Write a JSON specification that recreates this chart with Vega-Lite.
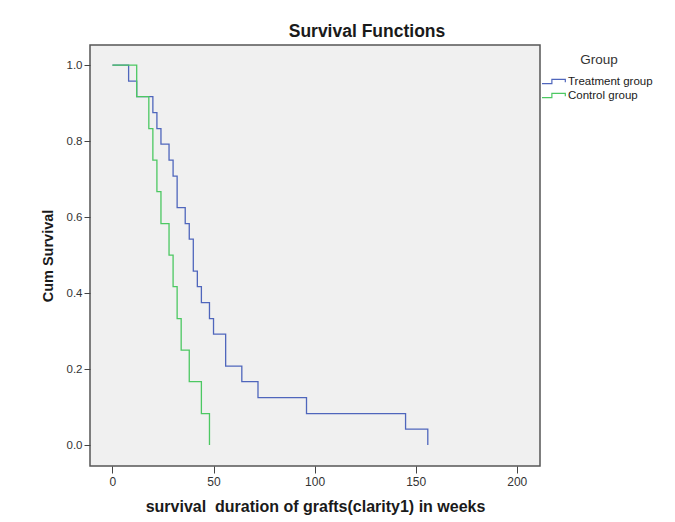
{
  "$schema": "https://vega.github.io/schema/vega-lite/v6.json",
  "width": 450,
  "height": 421,
  "autosize": {"type": "none"},
  "padding": {"left": 90, "top": 45, "right": 135, "bottom": 56},
  "background": "#ffffff",
  "title": {
    "text": "Survival Functions",
    "font": "Liberation Sans",
    "fontSize": 17.5,
    "fontWeight": "bold",
    "color": "#1a1a1a",
    "anchor": "middle",
    "dx": 52,
    "offset": 5
  },
  "data": {
    "values": [
      {"group": "Treatment group", "time": 0, "survival": 1.0},
      {"group": "Treatment group", "time": 8, "survival": 0.958},
      {"group": "Treatment group", "time": 12, "survival": 0.917},
      {"group": "Treatment group", "time": 20, "survival": 0.875},
      {"group": "Treatment group", "time": 22, "survival": 0.833},
      {"group": "Treatment group", "time": 24, "survival": 0.792},
      {"group": "Treatment group", "time": 28, "survival": 0.75},
      {"group": "Treatment group", "time": 30, "survival": 0.708},
      {"group": "Treatment group", "time": 32, "survival": 0.625},
      {"group": "Treatment group", "time": 36, "survival": 0.583},
      {"group": "Treatment group", "time": 38, "survival": 0.542},
      {"group": "Treatment group", "time": 40, "survival": 0.458},
      {"group": "Treatment group", "time": 42, "survival": 0.417},
      {"group": "Treatment group", "time": 44, "survival": 0.375},
      {"group": "Treatment group", "time": 48, "survival": 0.333},
      {"group": "Treatment group", "time": 50, "survival": 0.292},
      {"group": "Treatment group", "time": 56, "survival": 0.208},
      {"group": "Treatment group", "time": 64, "survival": 0.167},
      {"group": "Treatment group", "time": 72, "survival": 0.125},
      {"group": "Treatment group", "time": 96, "survival": 0.083},
      {"group": "Treatment group", "time": 145, "survival": 0.042},
      {"group": "Treatment group", "time": 156, "survival": 0.0},
      {"group": "Control group", "time": 0, "survival": 1.0},
      {"group": "Control group", "time": 12, "survival": 0.917},
      {"group": "Control group", "time": 18, "survival": 0.833},
      {"group": "Control group", "time": 20, "survival": 0.75},
      {"group": "Control group", "time": 22, "survival": 0.667},
      {"group": "Control group", "time": 24, "survival": 0.583},
      {"group": "Control group", "time": 28, "survival": 0.5},
      {"group": "Control group", "time": 30, "survival": 0.417},
      {"group": "Control group", "time": 32, "survival": 0.333},
      {"group": "Control group", "time": 34, "survival": 0.25},
      {"group": "Control group", "time": 38, "survival": 0.167},
      {"group": "Control group", "time": 44, "survival": 0.083},
      {"group": "Control group", "time": 48, "survival": 0.0}
    ]
  },
  "mark": {"type": "line", "interpolate": "step-after", "strokeWidth": 1.3},
  "encoding": {
    "x": {
      "field": "time",
      "type": "quantitative",
      "scale": {"domain": [-11.1, 211.5], "nice": false, "zero": false},
      "axis": {
        "values": [0, 50, 100, 150, 200],
        "title": "survival\u00a0 duration of grafts(clarity1) in weeks",
        "grid": false,
        "domain": false,
        "tickSize": 7,
        "tickColor": "#444",
        "labelPadding": 3,
        "labelFontSize": 12,
        "labelFont": "Liberation Sans",
        "labelColor": "#333",
        "titleFont": "Liberation Sans",
        "titleFontSize": 16,
        "titleFontWeight": "bold",
        "titleColor": "#1a1a1a",
        "titlePadding": 11
      }
    },
    "y": {
      "field": "survival",
      "type": "quantitative",
      "scale": {"domain": [-0.055, 1.053], "nice": false, "zero": false},
      "axis": {
        "values": [0, 0.2, 0.4, 0.6, 0.8, 1.0],
        "format": ".1f",
        "title": "Cum Survival",
        "grid": false,
        "domain": false,
        "tickSize": 6,
        "tickColor": "#444",
        "labelPadding": 2,
        "labelFontSize": 11.5,
        "labelFont": "Liberation Sans",
        "labelColor": "#333",
        "titleFont": "Liberation Sans",
        "titleFontSize": 14.5,
        "titleFontWeight": "bold",
        "titleColor": "#1a1a1a",
        "titlePadding": 11
      }
    },
    "color": {
      "field": "group",
      "type": "nominal",
      "scale": {"domain": ["Treatment group", "Control group"], "range": ["#4f66bc", "#4cc862"]},
      "legend": {
        "title": "Group",
        "orient": "none",
        "legendX": 456,
        "legendY": 8,
        "titleFont": "Liberation Sans",
        "titleFontSize": 13.5,
        "titleFontWeight": "normal",
        "titleColor": "#333",
        "titleAnchor": "middle",
        "titlePadding": 7,
        "labelFont": "Liberation Sans",
        "labelFontSize": 11.5,
        "labelColor": "#1a1a1a",
        "labelOffset": 6,
        "symbolType": "M-1.7,0.3H-0.3V-0.3H1.6V0.1",
        "symbolSize": 200,
        "symbolStrokeWidth": 1.2,
        "symbolFillColor": "transparent",
        "rowPadding": -1
      }
    }
  },
  "config": {
    "view": {"fill": "#f0f0f0", "stroke": "#555555", "strokeWidth": 1.5}
  }
}
